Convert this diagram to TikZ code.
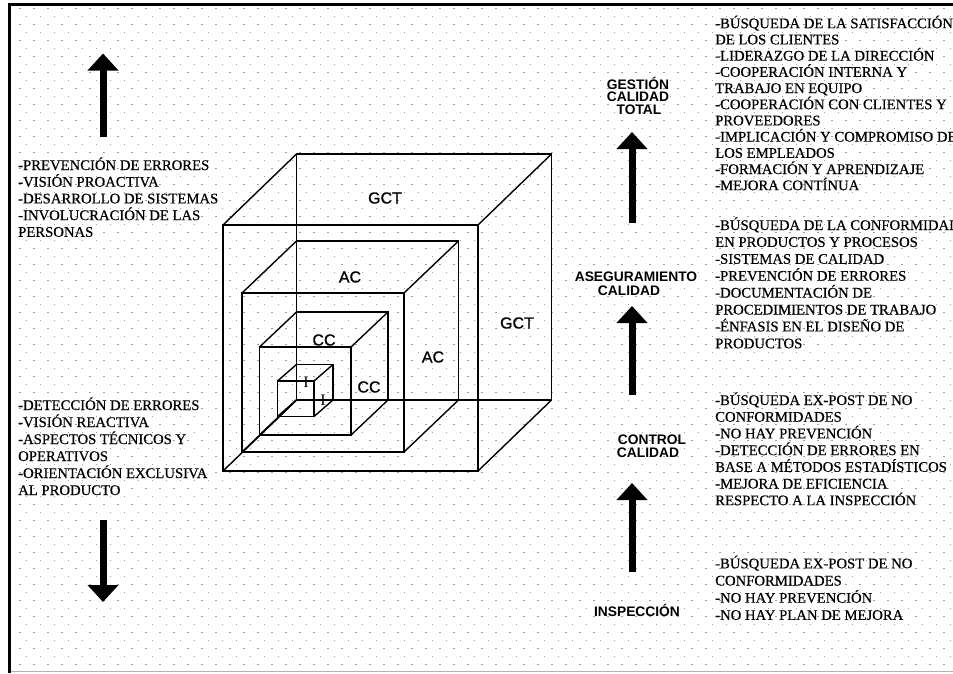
\documentclass[tikz,border=0pt]{standalone}
\usepackage{fontspec}
\setmainfont{Liberation Serif}
\newfontfamily\txtf[FakeBold=0.4]{Liberation Serif}
\newfontfamily\labf[FakeBold=0.8]{Liberation Sans}
\newfontface\stagef{Liberation Sans Bold}
\usetikzlibrary{arrows.meta}
\newcommand{\drawcube}[4]{%
  \draw[cubeline] (296.5,400) rectangle ++(#1,-#2);
  \draw[cubeline] ({296.5-#3},{400+#4}) rectangle ++(#1,-#2);
  \draw[cubeline] (296.5,400) -- ++({-#3},{#4});
  \draw[cubeline] ({296.5+#1},400) -- ++({-#3},{#4});
  \draw[cubeline] (296.5,{400-#2}) -- ++({-#3},{#4});
  \draw[cubeline] ({296.5+#1},{400-#2}) -- ++({-#3},{#4});
}
\tikzset{
  cubeline/.style={line width=1.4pt, black},
  fatarrow/.style={line width=7pt, -{Triangle[width=30pt,length=17pt]}},
  txt/.style={font=\txtf\fontsize{14.7}{16}\selectfont, inner sep=0pt, anchor=base west},
  stage/.style={font=\stagef\fontsize{13.8}{15}\selectfont, inner sep=0pt, anchor=base},
  cubelab/.style={font=\labf\fontsize{16}{18}\selectfont, inner sep=0pt},
  ilab/.style={font=\fontsize{16}{18}\selectfont, inner sep=0pt},
  dotc/.style={fill=black!38},
}
\begin{document}
\begin{tikzpicture}[x=1pt,y=-1pt]
\useasboundingbox (0,0) rectangle (953,673);
\fill[white] (0,0) rectangle (953,673);
% dot grid
\foreach \j in {1,...,83} {
  \pgfmathsetmacro{\xo}{26-6.7*mod(\j,2)}
  \foreach \i in {0,...,66} {\fill[dotc] ({\xo+14*\i},{8*\j}) rectangle ++(1.3,1.3);}
}
% frame
\draw[black!30, line width=1.5pt] (9,671.5) -- (953,671.5);
\draw[line width=3pt] (9,673) -- (9,4) -- (953,4);
% cubes
\drawcube{255}{246}{73.5}{71}
\drawcube{162}{159}{54.5}{52}
\drawcube{91.5}{88}{37}{35}
\drawcube{36.5}{35.5}{19}{16.5}
% cube labels
\node[cubelab] (gcttop) at (385,198) {GCT};
\node[cubelab] (gctside) at (517,323) {GCT};
\node[cubelab] (actop) at (350,277) {AC};
\node[cubelab] (acside) at (433,357) {AC};
\node[cubelab] (cctop) at (324,340) {CC};
\node[cubelab] (ccside) at (369,387) {CC};
\node[ilab] (itop) at (306,382) {I};
\node[ilab] (iside) at (323,400) {I};
% left arrows
\coordinate (lu1) at (103,137);
\coordinate (lu2) at (103,53.5);
\draw[fatarrow] (lu1) -- (lu2);
\coordinate (ld1) at (103,520);
\coordinate (ld2) at (103,602);
\draw[fatarrow] (ld1) -- (ld2);
% left texts
\foreach \t [count=\i from 0] in {-PREVENCIÓN DE ERRORES,-VISIÓN PROACTIVA,-DESARROLLO DE SISTEMAS,-INVOLUCRACIÓN DE LAS,PERSONAS}
  \node[txt, name=l1-\i] at (18,{170+16.7*\i}) {\t};
\foreach \t [count=\i from 0] in {-DETECCIÓN DE ERRORES,-VISIÓN REACTIVA,-ASPECTOS TÉCNICOS Y,OPERATIVOS,-ORIENTACIÓN EXCLUSIVA,AL PRODUCTO}
  \node[txt, name=l2-\i] at (18,{410+17*\i}) {\t};
% right texts
\foreach \t [count=\i from 0] in {-BÚSQUEDA DE LA SATISFACCIÓN,DE LOS CLIENTES,-LIDERAZGO DE LA DIRECCIÓN,-COOPERACIÓN INTERNA Y,TRABAJO EN EQUIPO,-COOPERACIÓN CON CLIENTES Y,PROVEEDORES,-IMPLICACIÓN Y COMPROMISO DE,LOS EMPLEADOS,-FORMACIÓN Y APRENDIZAJE,-MEJORA CONTÍNUA}
  \node[txt, name=r1-\i] at (715,{28.2+16.2*\i}) {\t};
\foreach \t [count=\i from 0] in {-BÚSQUEDA DE LA CONFORMIDAD,EN PRODUCTOS Y PROCESOS,-SISTEMAS DE CALIDAD,-PREVENCIÓN DE ERRORES,-DOCUMENTACIÓN DE,PROCEDIMIENTOS DE TRABAJO,-ÉNFASIS EN EL DISEÑO DE,PRODUCTOS}
  \node[txt, name=r2-\i] at (715,{230+16.9*\i}) {\t};
\foreach \t [count=\i from 0] in {-BÚSQUEDA EX-POST DE NO,CONFORMIDADES,-NO HAY PREVENCIÓN,-DETECCIÓN DE ERRORES EN,BASE A MÉTODOS ESTADÍSTICOS,-MEJORA DE EFICIENCIA,RESPECTO A LA INSPECCIÓN}
  \node[txt, name=r3-\i] at (715,{405+16.7*\i}) {\t};
\foreach \t [count=\i from 0] in {-BÚSQUEDA EX-POST DE NO,CONFORMIDADES,-NO HAY PREVENCIÓN,-NO HAY PLAN DE MEJORA}
  \node[txt, name=r4-\i] at (715,{568.3+17.2*\i}) {\t};
% stage labels
\node[stage] (gest) at (638,89) {GESTIÓN};
\node[stage] (gcal) at (638,101.5) {CALIDAD};
\node[stage] (gtot) at (639,114) {TOTAL};
\node[stage] (aseg) at (636,281.7) {ASEGURAMIENTO};
\node[stage] (acal) at (629,295.7) {CALIDAD};
\node[stage] (cont) at (652,444) {CONTROL};
\node[stage] (ccal) at (648,457.5) {CALIDAD};
\node[stage] (insp) at (637,616) {INSPECCIÓN};
% stage arrows
\coordinate (a1s) at (632,223);
\coordinate (a1e) at (632,132);
\coordinate (a2s) at (632,395);
\coordinate (a2e) at (632,306);
\coordinate (a3s) at (632,572);
\coordinate (a3e) at (632,483);
\draw[fatarrow] (a1s) -- (a1e);
\draw[fatarrow] (a2s) -- (a2e);
\draw[fatarrow] (a3s) -- (a3e);
\end{tikzpicture}
\end{document}
